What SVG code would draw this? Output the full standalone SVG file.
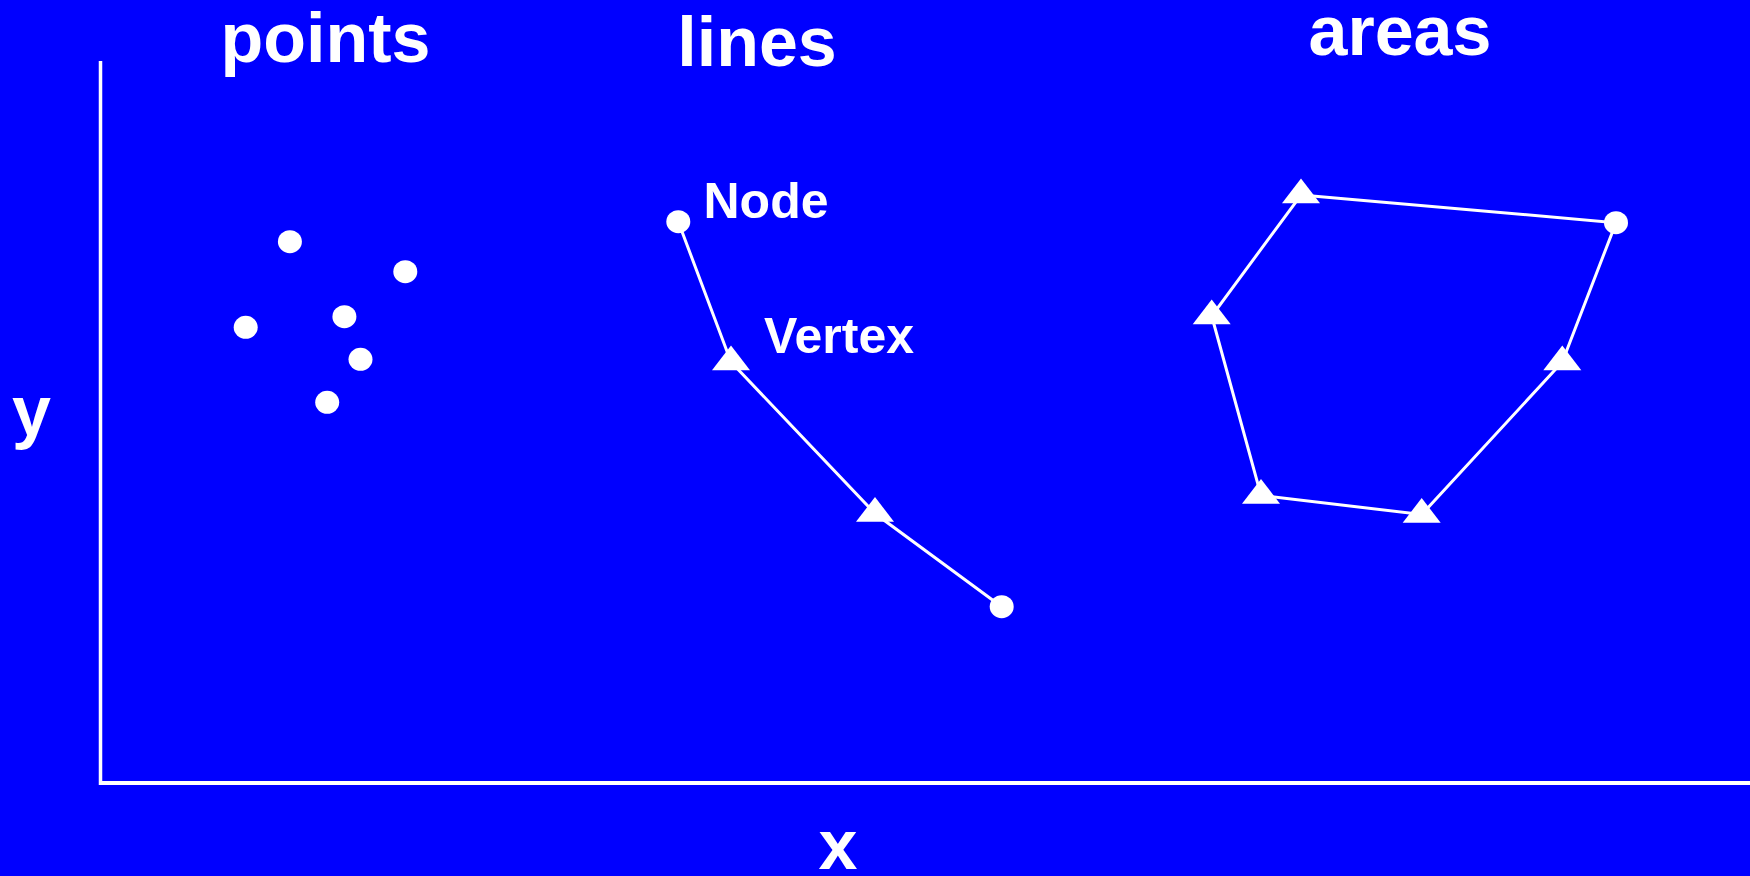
<svg xmlns="http://www.w3.org/2000/svg" xmlns:xlink="http://www.w3.org/1999/xlink" width="1750" height="876" viewBox="0 0 1750 876">
<style>
text{font-family:"Liberation Sans",Arial,Helvetica,sans-serif;font-weight:bold;fill:#fff;text-anchor:middle}
.title{font-size:70px}
.lbl{font-size:50px}
.axis{stroke:#fff;fill:none}
.edge{stroke:#fff;stroke-width:3;fill:none}
</style>
<defs>
<ellipse id="pt" cx="0" cy="0" rx="12" ry="11.5" fill="#fff"/>
<path id="tri" d="M0,-16.5 L19,8.3 L-19,8.3 Z" fill="#fff"/>
</defs>
<rect x="0" y="0" width="1750" height="876" fill="#0000FF"/>
<g id="axes">
<line class="axis" x1="100.5" y1="61" x2="100.5" y2="785" stroke-width="3.5"/>
<line class="axis" x1="99" y1="783" x2="1750" y2="783" stroke-width="4"/>
</g>
<g id="titles">
<text class="title" x="325.5" y="62">points</text>
<text class="title" x="757" y="66">lines</text>
<text class="title" x="1400" y="55">areas</text>
<text class="title" x="31.5" y="435">y</text>
<text class="title" x="838" y="869">x</text>
</g>
<g id="connectors">
<polyline class="edge" points="678.3,221.7 731,362 875,513.5 1001.7,606.7"/>
<polygon class="edge" points="1301,195 1616,222.7 1562.3,362 1421.7,514.5 1261,495.5 1211.7,316"/>
</g>
<g id="point-1"><use xlink:href="#pt" x="289.9" y="241.7"/></g>
<g id="point-2"><use xlink:href="#pt" x="405.3" y="271.7"/></g>
<g id="point-3"><use xlink:href="#pt" x="245.7" y="327.3"/></g>
<g id="point-4"><use xlink:href="#pt" x="344.4" y="316.7"/></g>
<g id="point-5"><use xlink:href="#pt" x="360.5" y="359.3"/></g>
<g id="point-6"><use xlink:href="#pt" x="327.2" y="402.3"/></g>
<g id="line-node-start"><use xlink:href="#pt" x="678.3" y="221.7"/><text class="lbl" x="766" y="218">Node</text></g>
<g id="line-vertex-1"><use xlink:href="#tri" x="731" y="362"/><text class="lbl" x="839" y="353">Vertex</text></g>
<g id="line-vertex-2"><use xlink:href="#tri" x="875" y="513.5"/></g>
<g id="line-node-end"><use xlink:href="#pt" x="1001.7" y="606.7"/></g>
<g id="area-vertex-top"><use xlink:href="#tri" x="1301" y="195"/></g>
<g id="area-node"><use xlink:href="#pt" x="1616" y="222.7"/></g>
<g id="area-vertex-right"><use xlink:href="#tri" x="1562.3" y="362"/></g>
<g id="area-vertex-bottom-right"><use xlink:href="#tri" x="1421.7" y="514.5"/></g>
<g id="area-vertex-bottom-left"><use xlink:href="#tri" x="1261" y="495.5"/></g>
<g id="area-vertex-left"><use xlink:href="#tri" x="1211.7" y="316"/></g>
</svg>
